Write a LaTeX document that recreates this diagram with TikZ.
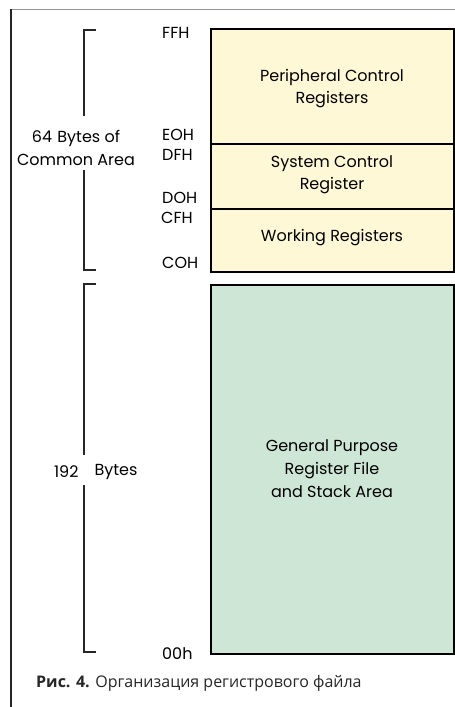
\documentclass[tikz,border=0pt]{standalone}
\usepackage{fontspec}
\setmainfont{Poppins}
\newfontfamily\capfont{Open Sans}
\definecolor{boxyellow}{RGB}{255,248,214}
\definecolor{boxgreen}{RGB}{205,230,214}
\definecolor{framegray}{RGB}{150,150,150}
\begin{document}
\begin{tikzpicture}[x=1pt,y=-1pt,
  membox/.style={draw=black, line width=1.8pt, rectangle, anchor=north west, inner sep=0pt, minimum width=243pt},
  boxtext/.style={align=center, font=\fontsize{16}{22}\selectfont, text=black},
  addr/.style={anchor=west, font=\fontsize{16}{16}\selectfont, inner sep=0pt, text=black},
  brk/.style={line width=1.3pt, black!85},
  brtext/.style={align=center, font=\fontsize{16}{23}\selectfont, text=black}]
\useasboundingbox (0,0) rectangle (455,707);
% frame
\draw[framegray, line width=1pt] (11,9) -- (455,9);
\draw[black!85, line width=1.2pt] (11,9) -- (11,707);
% memory boxes
\node[membox, fill=boxyellow, minimum height=115pt] (pcr) at (210,28) {};
\node[membox, fill=boxyellow, minimum height=65pt] (scr) at (210,143) {};
\node[membox, fill=boxyellow, minimum height=63pt] (wr) at (210,208) {};
\node[membox, fill=boxgreen, minimum height=369pt] (gp) at (210,284) {};
\node[boxtext] (tpcr) at (332,89) {Peripheral Control\\Registers};
\node[boxtext] (tscr) at (332,175) {System Control\\Register};
\node[boxtext] (twr) at (332,238) {Working Registers};
\node[boxtext, font=\fontsize{16}{23}\selectfont] (tgp) at (332,469) {General Purpose\\Register File\\and Stack Area};
% addresses
\node[addr] (aff) at (162,33) {FFH};
\node[addr] (ae0) at (162,135) {EOH};
\node[addr] (adf) at (162,155) {DFH};
\node[addr] (ad0) at (162,198) {DOH};
\node[addr] (acf) at (161,218) {CFH};
\node[addr] (ac0) at (162,263) {COH};
\node[addr] (a00) at (162,654) {00h};
% brackets
\coordinate (b1t) at (96,30);
\coordinate (b1a) at (84,116);
\coordinate (b1b) at (84,170);
\coordinate (b1e) at (96,270);
\draw[brk] (b1t) -| (b1a);
\draw[brk] (b1b) |- (b1e);
\node[brtext] (l64) at (76,148) {64\,\,Bytes of\\Common Area};
\coordinate (b2t) at (96,284);
\coordinate (b2a) at (84,455);
\coordinate (b2b) at (84,485);
\coordinate (b2e) at (96,652);
\draw[brk] (b2t) -| (b2a);
\draw[brk] (b2b) |- (b2e);
\node[brtext, anchor=east] (l192a) at (82,472) {192};
\node[brtext, anchor=west] (l192b) at (91,472) {Bytes};
% caption
\node[anchor=west, inner sep=0pt, font=\capfont\fontsize{16}{16}\selectfont, text=black!85] (cap) at (36,683) {\textbf{Рис. 4.} Организация регистрового файла};
\end{tikzpicture}
\end{document}
